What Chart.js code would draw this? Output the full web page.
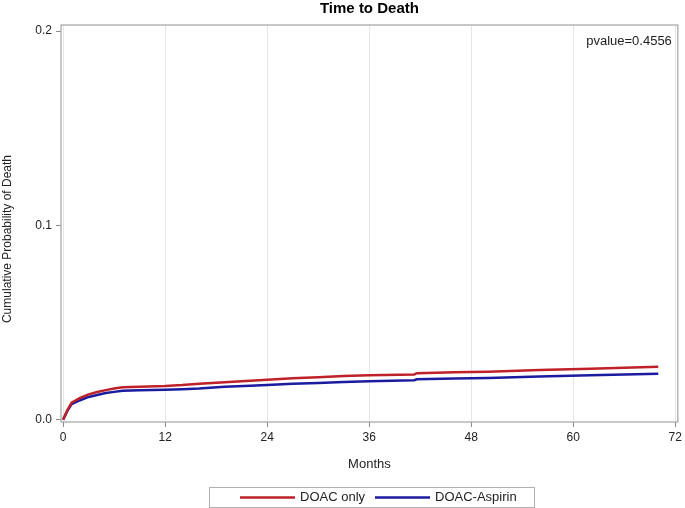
<!DOCTYPE html>
<html lang="en">
<head>
    <meta charset="UTF-8">
    <title>Time to Death</title>
    <script src="https://cdn.jsdelivr.net/npm/chart.js"></script>
    <style>
        html, body { margin: 0; padding: 0; background: #fff; }
        #wrap { width: 685px; height: 508px; }
    </style>
</head>
<body>
<div id="wrap"><canvas id="kmChart" width="685" height="508"></canvas></div>
<script>
// values
const months      = [0, 0.5, 1, 2, 3, 4, 5, 6, 7, 9, 12, 14, 16, 19, 22, 24, 27, 30, 33, 36, 41.3, 41.6, 46, 50, 56, 62, 66, 70];
const doacOnly    = [0, 0.0050, 0.0088, 0.0112, 0.0130, 0.0142, 0.0152, 0.0160, 0.0167, 0.0170, 0.0173, 0.0178, 0.0185, 0.0193, 0.0200, 0.0205, 0.0213, 0.0218, 0.0225, 0.0229, 0.0233, 0.0239, 0.0244, 0.0247, 0.0255, 0.0262, 0.0267, 0.0272];
const doacAspirin = [0, 0.0045, 0.0080, 0.0100, 0.0117, 0.0127, 0.0137, 0.0143, 0.0149, 0.0151, 0.0154, 0.0157, 0.0161, 0.0170, 0.0175, 0.0179, 0.0185, 0.0189, 0.0194, 0.0198, 0.0203, 0.0208, 0.0212, 0.0215, 0.0222, 0.0228, 0.0232, 0.0236];
const xTicks = [0, 12, 24, 36, 48, 60, 72];
const yTicks = [0, 0.1, 0.2];
const seriesNames = ['DOAC only', 'DOAC-Aspirin'];
const pValue = 'pvalue=0.4556';
const chartTitle = 'Time to Death';
const yTitle = 'Cumulative Probability of Death';

const FONT = "'Liberation Sans', Arial, sans-serif";
const RED = '#bf2128';
const BLUE = '#1b1ba0';

const toPts = arr => months.map((m, i) => ({ x: m, y: arr[i] }));

// frame, titles, p-value and boxed legend
const decor = {
    id: 'decor',
    afterDraw(chart) {
        const ctx = chart.ctx;
        const a = chart.chartArea;
        ctx.save();
        ctx.strokeStyle = '#a3a3a3';
        ctx.lineWidth = 1.2;
        ctx.strokeRect(a.left, a.top, a.right - a.left, a.bottom - a.top);

        ctx.fillStyle = '#000';
        ctx.textBaseline = 'middle';
        ctx.textAlign = 'center';
        ctx.font = 'bold 15px ' + FONT;
        ctx.fillText(chartTitle, (a.left + a.right) / 2, 9);

        // y axis title, sits a bit below the middle as in the original
        ctx.save();
        ctx.translate(8, 239);
        ctx.rotate(-Math.PI / 2);
        ctx.font = '12px ' + FONT;
        ctx.fillStyle = '#222';
        ctx.fillText(yTitle, 0, 0);
        ctx.restore();

        ctx.textAlign = 'right';
        ctx.font = '13px ' + FONT;
        ctx.fillStyle = '#222';
        ctx.fillText(pValue, a.right - 6, a.top + 16);

        // legend
        const lx = 209, ly = 487, lw = 325, lh = 20;
        ctx.strokeStyle = '#b0b0b0';
        ctx.lineWidth = 1;
        ctx.strokeRect(lx + 0.5, ly + 0.5, lw, lh);
        const cy = ly + lh / 2 + 0.5;
        const items = [
            { x: 240, color: chart.data.datasets[0].borderColor, label: chart.data.datasets[0].label },
            { x: 375, color: chart.data.datasets[1].borderColor, label: chart.data.datasets[1].label }
        ];
        ctx.textAlign = 'left';
        ctx.font = '13px ' + FONT;
        items.forEach(it => {
            ctx.strokeStyle = it.color;
            ctx.lineWidth = 2.5;
            ctx.beginPath();
            ctx.moveTo(it.x, cy);
            ctx.lineTo(it.x + 55, cy);
            ctx.stroke();
            ctx.fillStyle = '#222';
            ctx.fillText(it.label, it.x + 60, cy);
        });
        ctx.restore();
    }
};

new Chart(document.getElementById('kmChart'), {
    type: 'line',
    data: {
        datasets: [
            { label: seriesNames[0], data: toPts(doacOnly), borderColor: RED, backgroundColor: RED, borderWidth: 2.5, pointRadius: 0, tension: 0 },
            { label: seriesNames[1], data: toPts(doacAspirin), borderColor: BLUE, backgroundColor: BLUE, borderWidth: 2.5, pointRadius: 0, tension: 0 }
        ]
    },
    options: {
        responsive: false,
        animation: false,
        layout: { padding: { top: 25, right: 7, left: 0, bottom: 0 } },
        plugins: {
            legend: { display: false },
            title: { display: false },
            tooltip: { enabled: false }
        },
        scales: {
            x: {
                type: 'linear',
                min: -0.25,
                max: 72.3,
                afterBuildTicks: axis => { axis.ticks = xTicks.map(v => ({ value: v })); },
                afterFit: scale => { scale.height = 86; },
                ticks: { color: '#222', font: { family: FONT, size: 12 }, padding: 3, maxRotation: 0 },
                grid: { color: '#e6e6e6', tickColor: '#8a8a8a', tickLength: 5, lineWidth: 1 },
                border: { display: false },
                title: { display: true, text: 'Months', color: '#222', font: { family: FONT, size: 13 }, padding: { top: 4, bottom: 36 } }
            },
            y: {
                min: -0.0012,
                max: 0.2031,
                afterBuildTicks: axis => { axis.ticks = yTicks.map(v => ({ value: v })); },
                afterFit: scale => { scale.width = 61; },
                ticks: { color: '#222', font: { family: FONT, size: 12 }, padding: 4, callback: v => v.toFixed(1) },
                grid: { drawOnChartArea: false, tickColor: '#8a8a8a', tickLength: 5 },
                border: { display: false }
            }
        }
    },
    plugins: [decor]
});
</script>
</body>
</html>
